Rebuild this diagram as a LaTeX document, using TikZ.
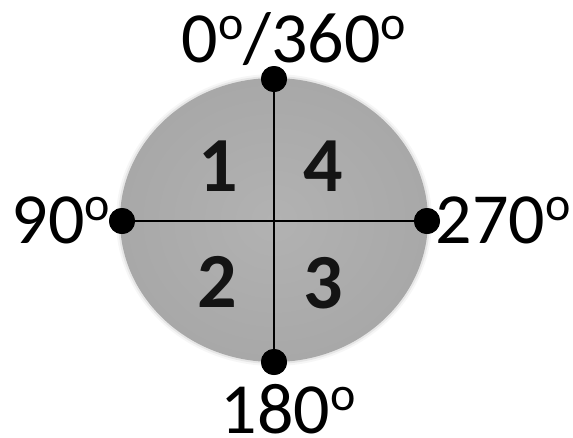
\documentclass[tikz,border=0pt]{standalone}
\usepackage{fontspec}
\setmainfont{Carlito}
\newcommand\mydeg{\raisebox{23pt}{\fontsize{48}{48}\selectfont o}}
\begin{document}
\begin{tikzpicture}[x=1pt,y=-1pt,
  dot/.style={circle,fill=black,inner sep=0pt,minimum size=26pt},
  deg/.style={font=\fontsize{72}{78}\selectfont,anchor=base,inner sep=0pt},
  quad/.style={font=\fontsize{78}{80}\selectfont\bfseries,inner sep=0pt,text=black!92},
  axis/.style={line width=1.4pt,draw=black}]
\useasboundingbox (0,0) rectangle (573,437);
\definecolor{discgray}{RGB}{168,168,168}
\definecolor{discin}{RGB}{178,178,178}
% soft edge
\foreach \r/\o in {4/0.10,2/0.2}{
  \fill[discgray,opacity=\o] (274,220) ellipse [x radius=154+\r, y radius=142+\r];
}
\shade[inner color=discin,outer color=discgray] (274,220) ellipse [x radius=154, y radius=142];
\coordinate (c) at (274,220);
\node[dot] (top) at (274,79) {};
\node[dot] (bottom) at (274,362) {};
\node[dot] (left) at (122,221) {};
\node[dot] (right) at (427,221) {};
\draw[axis] (top.center) -- (bottom.center);
\draw[axis] (left.center) -- (right.center);
\node[dot] at (top) {};
\node[dot] at (bottom) {};
\node[dot] at (left) {};
\node[dot] at (right) {};
% quadrant numbers
\node[quad] (q1) at (218,166) {1};
\node[quad] (q4) at (323,166) {4};
\node[quad] (q2) at (217,282) {2};
\node[quad] (q3) at (323,283) {3};
% degree labels
\node[deg] (ltop) at (294,62) {0\mydeg/360\mydeg};
\node[deg] (lleft) at (61,243) {90\mydeg};
\node[deg] (lright) at (503,243) {270\mydeg};
\node[deg] (lbottom) at (288,433) {180\mydeg};
\end{tikzpicture}
\end{document}
